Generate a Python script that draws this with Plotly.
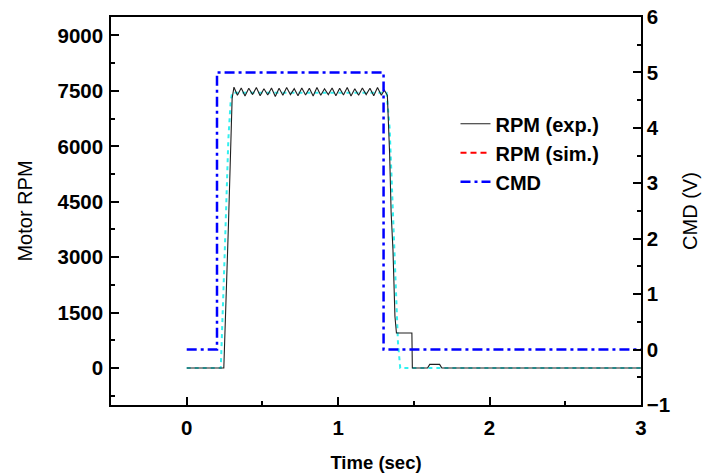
import plotly.graph_objects as go

# ---------------- data ----------------
exp_t = [0.000, 0.245, 0.275, 0.300, 0.312,
         0.335, 0.360, 0.385, 0.410, 0.435, 0.460, 0.485, 0.510, 0.535, 0.560,
         0.585, 0.610, 0.635, 0.660, 0.685, 0.710, 0.735, 0.760, 0.785, 0.810,
         0.835, 0.860, 0.885, 0.910, 0.935, 0.960, 0.985, 1.010, 1.035, 1.060,
         1.085, 1.110, 1.135, 1.160, 1.185, 1.210, 1.235, 1.260, 1.285,
         1.305, 1.325, 1.340, 1.350, 1.362, 1.375, 1.385,
         1.487, 1.490, 1.590, 1.605, 1.670, 1.685, 3.000]
exp_rpm = [0, 0, 3800, 7300, 7600,
           7380, 7580, 7360, 7570, 7400, 7590, 7370, 7560, 7390, 7580,
           7350, 7570, 7380, 7590, 7400, 7560, 7370, 7580, 7390, 7570,
           7360, 7590, 7380, 7560, 7400, 7580, 7370, 7570, 7390, 7590,
           7360, 7560, 7380, 7580, 7400, 7570, 7370, 7590, 7380,
           7520, 7380, 5800, 4200, 3200, 1400, 950,
           950, 0, 0, 100, 100, 0, 0]

sim_t = [0.000, 0.225, 0.250, 0.275, 0.290, 0.300, 1.320, 1.340, 1.360, 1.380, 1.395, 1.410, 3.000]
sim_rpm = [0, 0, 3000, 6200, 7200, 7450, 7450, 6500, 4400, 2000, 700, 0, 0]

cmd_t = [0.0, 0.2, 0.2, 1.3, 1.3, 3.0]
cmd_v = [0, 0, 5, 5, 0, 0]

rpm_ticks = [0, 1500, 3000, 4500, 6000, 7500, 9000]
cmd_ticks = [-1, 0, 1, 2, 3, 4, 5, 6]
time_ticks = [0, 1, 2, 3]

assert len(exp_t) == len(exp_rpm)
assert len(sim_t) == len(sim_rpm)

# ---------------- figure ----------------
fig = go.Figure()

fig.add_trace(go.Scatter(x=sim_t, y=sim_rpm, mode="lines", yaxis="y",
                         line=dict(color="#33F0F0", width=2, dash="4px,4px"),
                         showlegend=False, hoverinfo="skip"))
fig.add_trace(go.Scatter(x=exp_t, y=exp_rpm, mode="lines", yaxis="y",
                         name="RPM (exp.)",
                         line=dict(color="#202020", width=1.1)))
fig.add_trace(go.Scatter(x=[None], y=[None], mode="lines", yaxis="y",
                         name="RPM (sim.)",
                         line=dict(color="#FF0000", width=2, dash="6px,4px")))
fig.add_trace(go.Scatter(x=cmd_t, y=cmd_v, mode="lines", yaxis="y2",
                         name="CMD",
                         line=dict(color="#0000FF", width=2.5, dash="10px,4px,3px,4px")))

FAM = "Liberation Sans, Arial, sans-serif"
tickfont = dict(family=FAM, size=20.5, color="black", weight="bold")
axis_common = dict(showgrid=False, zeroline=False, showline=True, linecolor="black",
                   linewidth=1.5, ticks="inside", ticklen=8, tickwidth=1.5,
                   tickcolor="black", tickfont=tickfont, automargin=False)

fig.update_layout(
    width=703, height=476,
    margin=dict(l=111, r=62, t=17, b=71),
    paper_bgcolor="white", plot_bgcolor="white",
    xaxis=dict(range=[-0.5, 3], tickvals=time_ticks, mirror=True,
               minor=dict(dtick=0.5, tick0=0, ticks="inside", ticklen=4, tickwidth=1.5, tickcolor="black"),
               title=dict(text="Time (sec)", standoff=18,
                          font=dict(family=FAM, size=18.5, color="black", weight="bold")),
               ticklabelstandoff=4,
               **axis_common),
    yaxis=dict(range=[-1000, 9500], tickvals=rpm_ticks,
               minor=dict(dtick=750, tick0=0, ticks="inside", ticklen=4, tickwidth=1.5, tickcolor="black"),
               title=dict(text="Motor RPM", standoff=20,
                          font=dict(family=FAM, size=20, color="black")),
               ticklabelstandoff=2,
               **axis_common),
    yaxis2=dict(range=[-1, 6], tickvals=cmd_ticks, overlaying="y", side="right",
                minor=dict(dtick=0.5, tick0=0, ticks="inside", ticklen=4, tickwidth=1.5, tickcolor="black"),
                title=dict(text="CMD (V)", standoff=14,
                           font=dict(family=FAM, size=20, color="black")),
                ticklabelstandoff=0,
                **axis_common),
    legend=dict(x=0.65, y=0.775, xanchor="left", yanchor="top",
                bgcolor="rgba(0,0,0,0)", borderwidth=0, tracegroupgap=0,
                font=dict(family=FAM, size=20, color="black", weight="bold")),
    showlegend=True,
)

fig.write_html("out.html")
